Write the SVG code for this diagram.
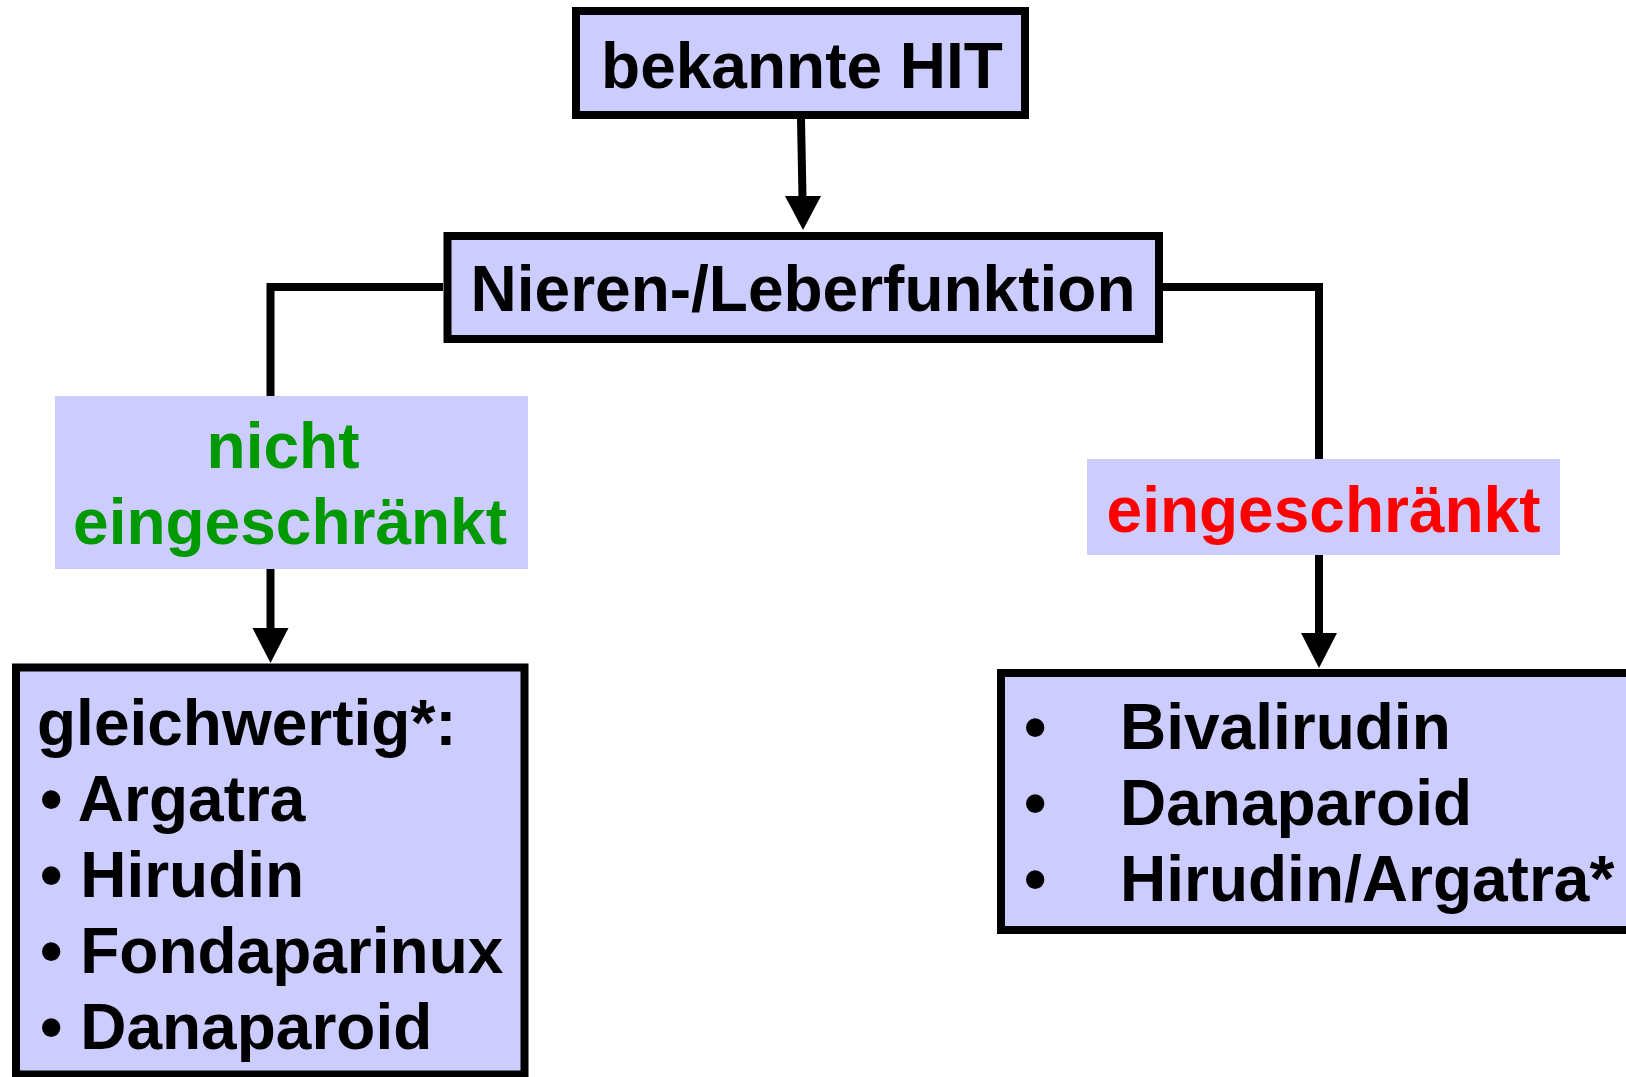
<svg xmlns="http://www.w3.org/2000/svg" width="1626" height="1077" viewBox="0 0 1626 1077">
<style>
.box{fill:#ccccff;stroke:#000;stroke-width:8}
.lbl{fill:#ccccff;stroke:none}
.t{font-family:"Liberation Sans",Arial,sans-serif;font-weight:bold;font-size:64px;fill:#000}
.c{text-anchor:middle}
.green{fill:#009900}
.red{fill:#ff0000}
.line{fill:none;stroke:#000;stroke-width:8}
.head{fill:#000}
</style>
<rect width="1626" height="1077" fill="#fff"/>
<g id="connectors">
<path class="line" d="M801 119 L802.5 198"/>
<polygon class="head" points="785,196 821,196 803,230"/>
<path class="line" d="M443 287 H270.5 V396"/>
<path class="line" d="M1163 287 H1319 V459"/>
<path class="line" d="M270.5 569 V630"/>
<polygon class="head" points="252.5,628 288.5,628 270.5,663"/>
<path class="line" d="M1319 555 V635"/>
<polygon class="head" points="1301,633 1337,633 1319,668"/>
</g>
<g id="node-hit">
<rect class="box" x="576" y="11" width="449" height="104"/>
<text class="t c" x="802" y="88">bekannte HIT</text>
</g>
<g id="node-funktion">
<rect class="box" x="447.5" y="236" width="711.5" height="103"/>
<text class="t c" x="803" y="311">Nieren-/Leberfunktion</text>
</g>
<g id="label-nicht">
<rect class="lbl" x="55" y="396" width="473" height="173"/>
<text class="t c green" x="283" y="468">nicht</text>
<text class="t c green" x="290" y="544">eingeschränkt</text>
</g>
<g id="label-eingeschraenkt">
<rect class="lbl" x="1087" y="459" width="473" height="96"/>
<text class="t c red" x="1323.5" y="532">eingeschränkt</text>
</g>
<g id="node-gleichwertig">
<rect class="box" x="16" y="667.5" width="508.5" height="407"/>
<text class="t" x="37" y="745">gleichwertig*:</text>
<text class="t" x="40" y="821">• Argatra</text>
<text class="t" x="40" y="897">• Hirudin</text>
<text class="t" x="40" y="973">• Fondaparinux</text>
<text class="t" x="40" y="1049">• Danaparoid</text>
</g>
<g id="node-eingeschraenkt">
<rect class="box" x="1001" y="673" width="700" height="257"/>
<text class="t" x="1024" y="749">•</text>
<text class="t" x="1120" y="749">Bivalirudin</text>
<text class="t" x="1024" y="825">•</text>
<text class="t" x="1120" y="825">Danaparoid</text>
<text class="t" x="1024" y="901">•</text>
<text class="t" x="1120" y="901">Hirudin/Argatra*</text>
</g>
</svg>
